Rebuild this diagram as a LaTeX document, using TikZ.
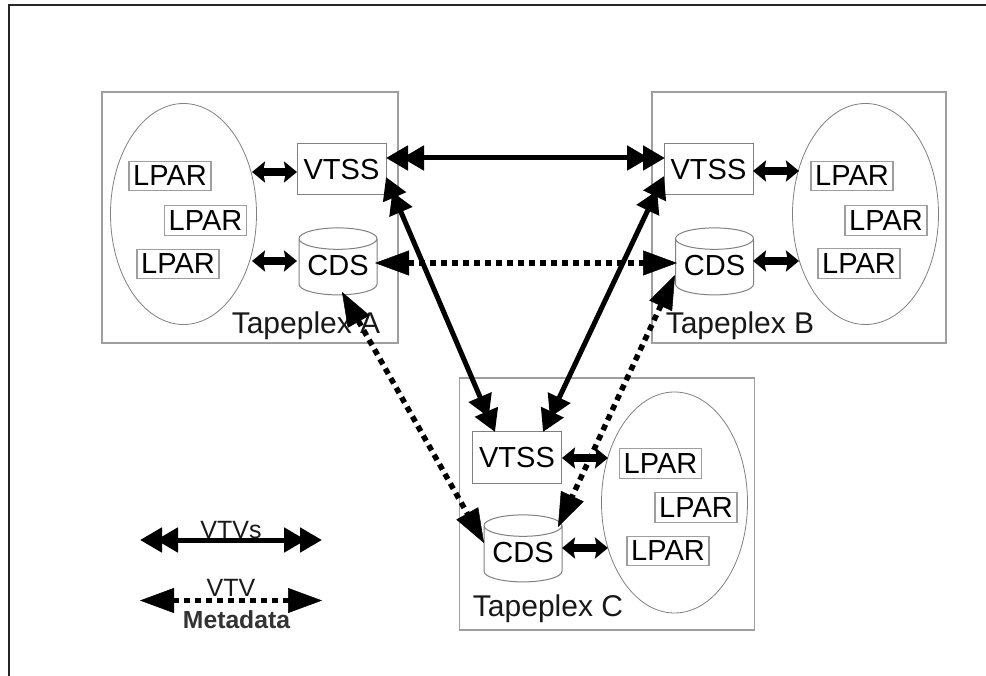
\documentclass[tikz,border=0pt]{standalone}
\usepackage{fontspec}
\setmainfont{Liberation Sans}
\usetikzlibrary{shapes.geometric,arrows.meta,calc}
\definecolor{boxgray}{gray}{0.62}
\definecolor{thingray}{gray}{0.5}
\tikzset{
  x=1pt,y=-1pt,
  plexbox/.style={draw=boxgray,line width=1.2pt,minimum width=#1,inner sep=0pt},
  oval/.style={draw=thingray,line width=0.8pt,ellipse,inner sep=0pt},
  lparbox/.style={draw=boxgray,line width=1.2pt,font=\fontsize{29}{29}\selectfont,inner sep=0pt,minimum width=82pt,minimum height=29.5pt},
  vtssbox/.style={draw=thingray,line width=1pt,font=\fontsize{29}{29}\selectfont,inner sep=0pt,minimum width=89pt,minimum height=51pt},
  cdsbox/.style={draw=thingray,line width=1pt,cylinder,shape border rotate=90,aspect=0.35,font=\fontsize{29}{29}\selectfont,inner sep=0pt,minimum width=78pt,minimum height=67pt,fill=white},
  lbl/.style={font=\fontsize{30}{30}\selectfont,inner sep=0pt,text=black!90},
  small/.style={font=\fontsize{25}{25}\selectfont,inner sep=0pt,text=black!90},
  smallbold/.style={font=\bfseries\fontsize{24.7}{25}\selectfont,inner sep=0pt,text=black!80},
  shortarrow/.style={line width=8pt,{Stealth[length=13pt,width=21pt,inset=2pt]}-{Stealth[length=13pt,width=21pt,inset=2pt]}},
  solidarrow/.style={line width=5pt,{Triangle[length=22pt,width=24pt]Triangle[length=22pt,width=24pt,sep=-6pt]}-{Triangle[length=22pt,width=24pt,sep=-6pt]Triangle[length=22pt,width=24pt]}},
  dotline/.style={line width=5.5pt,dash pattern=on 6pt off 5pt,shorten <=33pt,shorten >=33pt},
  dothead/.style={line width=0.5pt,-{Triangle[length=34pt,width=25pt]}},
}
\begin{document}
\begin{tikzpicture}
\useasboundingbox (0,0) rectangle (986,676);
\fill[white] (0,0) rectangle (986,676);
\coordinate (fa) at (8.5,676); \coordinate (fb) at (8.5,5.5); \coordinate (fc) at (986,5.5);
\draw[black!85,line width=2pt] (fa) -- (fb) -- (fc);

% Tapeplex boxes
\node[plexbox=296pt,minimum height=251pt] (A) at (250,217.5) {};
\node[plexbox=294pt,minimum height=251pt] (B) at (799,217.5) {};
\node[plexbox=295pt,minimum height=252pt] (C) at (607,504) {};

% ovals
\node[oval,minimum width=146pt,minimum height=221pt] (oa) at (183.5,214) {};
\node[oval,minimum width=146pt,minimum height=221pt] (ob) at (865.5,214) {};
\node[oval,minimum width=146pt,minimum height=221pt] (oc) at (674.5,502.5) {};

% LPARs
\node[lparbox] (a1) at (170,176) {LPAR};
\node[lparbox] (a2) at (205.5,220.5) {LPAR};
\node[lparbox] (a3) at (178,264) {LPAR};
\node[lparbox] (b1) at (852,176) {LPAR};
\node[lparbox] (b2) at (886,220.5) {LPAR};
\node[lparbox] (b3) at (859,263.5) {LPAR};
\node[lparbox] (c1) at (660.5,463.5) {LPAR};
\node[lparbox] (c2) at (696,507.5) {LPAR};
\node[lparbox] (c3) at (668,551) {LPAR};

% VTSS and CDS
\node[vtssbox] (va) at (341.5,169.5) {VTSS};
\node[vtssbox] (vb) at (708.5,169.5) {VTSS};
\node[vtssbox] (vc) at (517,457.5) {VTSS};
\node[cdsbox] (ca) at (338,267) {\raisebox{2.5pt}{CDS}};
\node[cdsbox] (cb) at (714.5,267) {\raisebox{2.5pt}{CDS}};
\node[cdsbox] (cc) at (523,554) {\raisebox{2.5pt}{CDS}};

% labels
\node[lbl] (ta) at (306,326) {Tapeplex A};
\node[lbl] (tb) at (740,325.5) {Tapeplex B};
\node[lbl] (tc) at (548,609) {Tapeplex C};

% short arrows
\coordinate (sa1l) at (252,172); \coordinate (sa1r) at (297,172);
\coordinate (sa2l) at (252,261); \coordinate (sa2r) at (297,261);
\coordinate (sb1l) at (753,171); \coordinate (sb1r) at (799,171);
\coordinate (sb2l) at (753,261); \coordinate (sb2r) at (799,261);
\coordinate (sc1l) at (562,458); \coordinate (sc1r) at (608,458);
\coordinate (sc2l) at (562,548); \coordinate (sc2r) at (608,548);
\draw[shortarrow] (sa1l) -- (sa1r);
\draw[shortarrow] (sa2l) -- (sa2r);
\draw[shortarrow] (sb1l) -- (sb1r);
\draw[shortarrow] (sb2l) -- (sb2r);
\draw[shortarrow] (sc1l) -- (sc1r);
\draw[shortarrow] (sc2l) -- (sc2r);

% VTV links
\coordinate (v1) at (386,158); \coordinate (v2) at (665,158);
\coordinate (v3) at (386,177); \coordinate (v4) at (495,432);
\coordinate (v5) at (664,176); \coordinate (v6) at (543,432);
\draw[solidarrow] (v1) -- (v2);
\draw[solidarrow] (v3) -- (v4);
\draw[solidarrow] (v5) -- (v6);

% metadata links
\coordinate (m1) at (375,263); \coordinate (m2) at (677,263);
\coordinate (m3) at (342,292); \coordinate (m4) at (484,543);
\coordinate (m5) at (675,275); \coordinate (m6) at (558,527);
\draw[dotline] (m1) -- (m2);
\draw[dotline] (m3) -- (m4);
\draw[dotline] (m5) -- (m6);
\draw[dothead] ($(m1)!33pt!(m2)$) -- (m1);
\draw[dothead] ($(m2)!33pt!(m1)$) -- (m2);
\draw[dothead] ($(m3)!33pt!(m4)$) -- (m3);
\draw[dothead] ($(m4)!33pt!(m3)$) -- (m4);
\draw[dothead] ($(m5)!33pt!(m6)$) -- (m5);
\draw[dothead] ($(m6)!33pt!(m5)$) -- (m6);

% legend
\coordinate (l1) at (140,540); \coordinate (l2) at (322,540);
\coordinate (l3) at (140,600.5); \coordinate (l4) at (322,600.5);
\draw[solidarrow] (l1) -- (l2);
\draw[dotline] (l3) -- (l4);
\draw[dothead] ($(l3)!33pt!(l4)$) -- (l3);
\draw[dothead] ($(l4)!33pt!(l3)$) -- (l4);
\node[small] (lv) at (231,530) {VTVs};
\node[small] (lm) at (231,588) {VTV};
\node[smallbold] (lmd) at (236.5,620) {Metadata};
\end{tikzpicture}
\end{document}
